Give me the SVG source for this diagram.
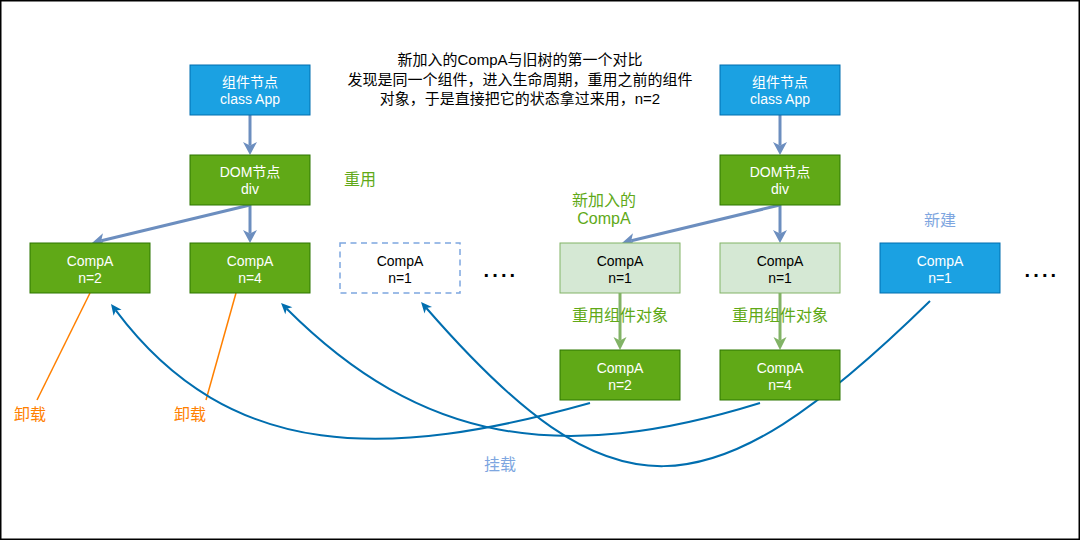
<svg xmlns="http://www.w3.org/2000/svg" width="1081" height="541" viewBox="0 0 1081 541">
<style>
text{font-family:"Liberation Sans","Noto Sans CJK SC",sans-serif;}
.bt{font-size:14px;fill:#ffffff;text-anchor:middle;}
.kt{font-size:14px;fill:#000000;text-anchor:middle;}
.title{font-size:15px;fill:#000000;text-anchor:middle;}
.lg{font-size:16px;fill:#60A917;text-anchor:middle;}
.lb{font-size:16px;fill:#7EA6E0;text-anchor:middle;}
.lo{font-size:16px;fill:#FF8000;text-anchor:middle;}
.dots{font-size:20px;font-weight:bold;fill:#000000;letter-spacing:3.1px;}
.blue{fill:#1BA1E2;stroke:#006EAF;stroke-width:1;}
.green{fill:#60A917;stroke:#2D7600;stroke-width:1;}
.lgreen{fill:#D5E8D4;stroke:#82B366;stroke-width:1;}
.dashed{fill:#ffffff;stroke:#7EA6E0;stroke-width:1.5;stroke-dasharray:6 4.5;}
.tree{fill:none;stroke:#6C8EBF;stroke-width:3;marker-end:url(#mTree);}
.reuse{fill:none;stroke:#82B366;stroke-width:3;marker-end:url(#mReuse);}
.mount{fill:none;stroke:#006EAF;stroke-width:2;marker-end:url(#mMount);}
.unmount{fill:none;stroke:#FF8000;stroke-width:1.5;}
</style>
<defs>
<marker id="mTree" markerUnits="userSpaceOnUse" orient="auto" refX="3.5" refY="0" markerWidth="20" markerHeight="20" overflow="visible">
<path d="M0,-7 L13,0 L0,7 L3.5,0 Z" fill="#6C8EBF"/>
</marker>
<marker id="mReuse" markerUnits="userSpaceOnUse" orient="auto" refX="3.5" refY="0" markerWidth="20" markerHeight="20" overflow="visible">
<path d="M0,-6.5 L13,0 L0,6.5 L3.5,0 Z" fill="#82B366"/>
</marker>
<marker id="mMount" markerUnits="userSpaceOnUse" orient="auto" refX="3" refY="0" markerWidth="20" markerHeight="20" overflow="visible">
<path d="M0,-5 L11,0 L0,5 L3,0 Z" fill="#006EAF"/>
</marker>
</defs>
<rect x="0.75" y="0.75" width="1078.5" height="538.5" fill="#ffffff" stroke="#000000" stroke-width="1.5"/>

<g id="connectors">
<path class="tree" d="M250,115 L250,145.5"/>
<path class="tree" d="M250,205 L250,233.5"/>
<path class="tree" d="M250,205 L101.2,240.8"/>
<path class="tree" d="M780,115 L780,145.5"/>
<path class="tree" d="M780,205 L780,233.5"/>
<path class="tree" d="M780,205 L631.2,240.8"/>
<path class="reuse" d="M620,293 L620,340.5"/>
<path class="reuse" d="M780,293 L780,340.5"/>
<path class="unmount" d="M90,293 L37,400"/>
<path class="unmount" d="M236,293 L206,400"/>
<path class="mount" d="M590,403 C390,459 231,464 115.8,310.4"/>
<path class="mount" d="M760,403 C560,465 421,443 286.7,308.7"/>
<path class="mount" d="M930,301 C706,520 611,520 426.3,308"/>
</g>

<g id="app-left">
<rect class="blue" x="190" y="65" width="120" height="50"/>
<text class="bt" x="250" y="87">组件节点</text>
<text class="bt" x="250" y="104">class App</text>
</g>
<g id="dom-left">
<rect class="green" x="190" y="155" width="120" height="50"/>
<text class="bt" x="250" y="177">DOM节点</text>
<text class="bt" x="250" y="194">div</text>
</g>
<g id="old-compa-n2">
<rect class="green" x="30" y="243" width="120" height="50"/>
<text class="bt" x="90" y="265.5">CompA</text>
<text class="bt" x="90" y="282.5">n=2</text>
</g>
<g id="old-compa-n4">
<rect class="green" x="190" y="243" width="120" height="50"/>
<text class="bt" x="250" y="265.5">CompA</text>
<text class="bt" x="250" y="282.5">n=4</text>
</g>
<g id="old-compa-n1">
<rect class="dashed" x="340" y="243" width="120" height="50"/>
<text class="kt" x="400" y="265.5">CompA</text>
<text class="kt" x="400" y="282.5">n=1</text>
</g>
<g id="dots-left">
<text class="dots" x="483.6" y="277">....</text>
</g>

<g id="app-right">
<rect class="blue" x="720" y="65" width="120" height="50"/>
<text class="bt" x="780" y="87">组件节点</text>
<text class="bt" x="780" y="104">class App</text>
</g>
<g id="dom-right">
<rect class="green" x="720" y="155" width="120" height="50"/>
<text class="bt" x="780" y="177">DOM节点</text>
<text class="bt" x="780" y="194">div</text>
</g>
<g id="new-compa-1">
<rect class="lgreen" x="560" y="243" width="120" height="50"/>
<text class="kt" x="620" y="265.5">CompA</text>
<text class="kt" x="620" y="282.5">n=1</text>
</g>
<g id="new-compa-2">
<rect class="lgreen" x="720" y="243" width="120" height="50"/>
<text class="kt" x="780" y="265.5">CompA</text>
<text class="kt" x="780" y="282.5">n=1</text>
</g>
<g id="new-compa-3">
<rect class="blue" x="880" y="243" width="120" height="50"/>
<text class="bt" x="940" y="265.5">CompA</text>
<text class="bt" x="940" y="282.5">n=1</text>
</g>
<g id="dots-right">
<text class="dots" x="1024.6" y="277">....</text>
</g>
<g id="reused-compa-n2">
<rect class="green" x="560" y="350" width="120" height="50"/>
<text class="bt" x="620" y="372.5">CompA</text>
<text class="bt" x="620" y="389.5">n=2</text>
</g>
<g id="reused-compa-n4">
<rect class="green" x="720" y="350" width="120" height="50"/>
<text class="bt" x="780" y="372.5">CompA</text>
<text class="bt" x="780" y="389.5">n=4</text>
</g>

<g id="labels">
<text class="title" x="520" y="65">新加入的CompA与旧树的第一个对比</text>
<text class="title" x="520" y="84.5">发现是同一个组件，进入生命周期，重用之前的组件</text>
<text class="title" x="520" y="104">对象，于是直接把它的状态拿过来用，n=2</text>
<text class="lg" x="360" y="185">重用</text>
<text class="lg" x="604" y="205.5">新加入的</text>
<text class="lg" x="604" y="224">CompA</text>
<text class="lb" x="940" y="226">新建</text>
<text class="lg" x="620" y="321">重用组件对象</text>
<text class="lg" x="780" y="321">重用组件对象</text>
<text class="lo" x="30" y="420">卸载</text>
<text class="lo" x="190" y="420">卸载</text>
<text class="lb" x="500" y="470">挂载</text>
</g>
</svg>
